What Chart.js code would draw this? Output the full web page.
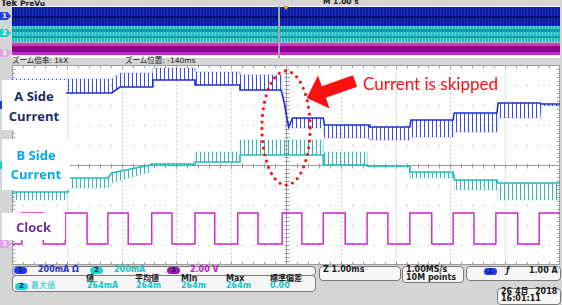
<!DOCTYPE html>
<html>
<head>
<meta charset="utf-8">
<script src="https://cdn.jsdelivr.net/npm/chart.js@4.4.1/dist/chart.umd.min.js"></script>
<style>
	body { margin: 0; }
	#scope { position: relative; width: 562px; height: 305px; background: #d5d5d5; overflow: hidden;
		font-family: "DejaVu Sans", "Noto Sans CJK JP", sans-serif; font-size: 8px; font-weight: bold; color: #1a1a1a; }
	#scope div, #scope span, #scope canvas { position: absolute; }
	.band { left: 0; width: 548px; }
	.mark { width: 11px; height: 8px; font-size: 7px; line-height: 8px; text-indent: 2px; color: #fff;
		clip-path: polygon(0 0, 65% 0, 100% 50%, 65% 100%, 0 100%); }
	.label { background: #fff; text-align: center; font-family: "Open Sans", "Noto Sans", sans-serif; font-weight: 700; font-size: 13px; z-index: 3; }
	.box { border: 1px solid #7a7a7a; border-radius: 4px; background: #f6f6f6; }
	.oval { width: 13px; height: 7px; border-radius: 4px; font-size: 7px; line-height: 7px; text-align: center; color: #102060; }
	.t { white-space: nowrap; line-height: 8px; }
</style>
</head>
<body>
<div id="scope">
	<div class="t" style="left:1px;top:-1px;font-size:8.5px;">Tek <span style="position:static;font-size:7.5px;">PreVu</span></div>
	<div class="t" style="left:323px;top:-2px;font-size:7.5px;">M 1.00 s</div>

	<div id="strip" style="left:12px;top:6px;width:548px;height:52px;background:#fff;">
		<div class="band" style="top:1px;height:19px;background:linear-gradient(to bottom, transparent 0 9px, #07106e 9px 11px, transparent 11px), repeating-linear-gradient(90deg, #0b1a9e 0 2px, #1e32ba 2px 3px);"></div>
		<div class="band" style="top:20px;height:16px;background:linear-gradient(to bottom, transparent 0 3px, #0f9ca2 3px 6px, transparent 6px 10px, #0f9ca2 10px 12px, transparent 12px), repeating-linear-gradient(90deg, #20bcc0 0 2px, #62d6d8 2px 3px);"></div>
		<div class="band" style="top:36px;height:1px;background:#b8b8b8;"></div>
		<div class="band" style="top:37px;height:12px;background:linear-gradient(to bottom, #d232d2 0 3px, #8c0090 3px 9px, #c828c8 9px 12px);"></div>
		<div style="left:266px;top:0;width:2px;height:52px;background:#a4a4a4;"></div>
		<div style="left:271px;top:0;width:0;height:0;border-left:3px solid transparent;border-right:3px solid transparent;border-top:4px solid #f0a020;"></div>
	</div>
	<div class="mark" style="left:0;top:12px;background:#2040e0;">1</div>
	<div class="mark" style="left:0;top:29px;background:#20c8d0;">2</div>
	<div class="mark" style="left:0;top:49px;background:#e0a0ee;">3</div>

	<div class="t" style="left:12px;top:57px;font-size:7.5px;font-weight:normal;">ズーム倍率: 1kX</div>
	<div class="t" style="left:125px;top:57px;font-size:7.5px;font-weight:normal;">ズーム位置: -140ms</div>

	<canvas id="zoom" width="548" height="200" style="left:12px;top:65px;background:#fff;"></canvas>

	<div class="mark" style="left:0;top:101px;background:#2040e0;">1</div>
	<div class="mark" style="left:0;top:161px;background:#20c8d0;">2</div>
	<div class="mark" style="left:0;top:240px;background:#e0a0ee;z-index:4;">3</div>

	<div class="label" style="left:2px;top:80px;width:64px;height:44px;padding-top:6px;line-height:20px;color:#1f2d62;">A Side<br>Current</div>
	<div class="label" style="left:2px;top:139px;width:68px;height:44px;padding-top:7px;line-height:19px;color:#00aaee;">B Side<br>Current</div>
	<div class="label" style="left:2px;top:213px;width:63px;height:26px;padding-top:1px;line-height:26px;color:#7030a0;">Clock</div>

	<div class="t" style="left:363px;top:75px;font-family:Lato,sans-serif;font-weight:normal;font-size:17px;line-height:17px;color:#ff1010;z-index:3;">Current is skipped</div>

	<div class="box" style="left:12px;top:266px;width:302px;height:8px;"></div>
	<div class="oval" style="left:14px;top:267px;background:#2038e8;">1</div>
	<div class="t" style="left:38px;top:266px;color:#2030d0;">200mA Ω</div>
	<div class="oval" style="left:90px;top:267px;background:#22d2d2;">2</div>
	<div class="t" style="left:114px;top:266px;color:#14c4c8;">200mA</div>
	<div class="oval" style="left:167px;top:267px;background:#9a1ca8;">3</div>
	<div class="t" style="left:190px;top:266px;color:#c020c0;">2.00 V</div>

	<div class="box" style="left:12px;top:275px;width:302px;height:15px;"></div>
	<div class="t" style="left:86px;top:275px;">値</div>
	<div class="t" style="left:135px;top:275px;">平均値</div>
	<div class="t" style="left:181px;top:275px;">Min</div>
	<div class="t" style="left:226px;top:275px;">Max</div>
	<div class="t" style="left:270px;top:275px;">標準偏差</div>
	<div class="oval" style="left:15px;top:283px;background:#22d2d2;">2</div>
	<div class="t" style="left:31px;top:282px;color:#14c4c8;font-weight:normal;">最大値</div>
	<div class="t" style="left:87px;top:282px;color:#14c4c8;">264mA</div>
	<div class="t" style="left:136px;top:282px;color:#14c4c8;">264m</div>
	<div class="t" style="left:181px;top:282px;color:#14c4c8;">264m</div>
	<div class="t" style="left:226px;top:282px;color:#14c4c8;">264m</div>
	<div class="t" style="left:270px;top:282px;color:#14c4c8;">0.00</div>

	<div class="box" style="left:319px;top:266px;width:80px;height:13px;"></div>
	<div class="t" style="left:323px;top:266px;">Z 1.00ms</div>
	<div class="box" style="left:402px;top:266px;width:60px;height:15px;"></div>
	<div class="t" style="left:406px;top:266px;">1.00MS/s</div>
	<div class="t" style="left:406px;top:274px;">10M points</div>
	<div class="box" style="left:466px;top:266px;width:93px;height:13px;"></div>
	<div class="oval" style="left:484px;top:268px;background:#2038e8;">1</div>
	<div class="t" style="left:506px;top:267px;font-style:italic;">ƒ</div>
	<div class="t" style="left:529px;top:267px;">1.00 A</div>

	<div class="box" style="left:497px;top:288px;width:62px;height:15px;"></div>
	<div class="t" style="left:501px;top:288px;">26 4月</div>
	<div class="t" style="left:535px;top:288px;">2018</div>
	<div class="t" style="left:501px;top:295px;">16:01:11</div>
</div>

<script>
// time axis in ms (1 ms/div, centre = trigger), vertical axis in divisions
const xTicks = [-5, -4, -3, -2, -1, 0, 1, 2, 3, 4, 5];
const yTicks = [-5, -4, -3, -2, -1, 0, 1, 2, 3, 4, 5];

// A side current (ch1): solid edge of the trace and the tips of its ripple
const aTime = [-5.00, -3.18, -3.03, -2.43, -2.43, -1.66, -1.66, -0.84, -0.84, -0.09, -0.03, 0.02, 0.05, 0.12, 0.68, 0.70, 1.53, 1.53, 2.26, 2.28, 3.05, 3.07, 3.85, 3.87, 4.64, 4.66, 5.00];
const aBase = [3.60, 3.60, 3.90, 3.90, 4.25, 4.25, 4.00, 4.00, 3.75, 3.75, 3.10, 2.30, 1.90, 2.35, 2.35, 2.00, 2.00, 1.90, 1.90, 2.25, 2.25, 2.60, 2.60, 3.10, 3.10, 3.05, 3.05];
const aPeak = [4.30, 4.30, 4.60, 4.60, 4.85, 4.85, 4.65, 4.65, 4.50, 4.50, 3.10, 2.30, 1.90, 1.85, 1.85, 1.35, 1.35, 1.25, 1.25, 1.40, 1.40, 1.65, 1.65, 2.35, 2.35, 2.95, 2.95];

// B side current (ch2)
const bTime = [-5.00, -3.98, -3.98, -3.25, -3.18, -2.48, -2.45, -1.66, -1.66, -0.84, -0.84, 0.68, 0.68, 1.48, 1.48, 2.26, 2.26, 3.05, 3.08, 3.85, 3.87, 5.00];
const bBase = [-1.35, -1.35, -0.65, -0.65, -0.40, 0.00, 0.05, 0.05, 0.15, 0.15, 0.50, 0.50, 0.00, 0.00, -0.05, -0.05, -0.35, -0.35, -0.75, -0.75, -0.90, -0.90];
const bPeak = [-1.75, -1.75, -1.15, -1.15, -0.90, -0.35, -0.05, -0.05, 0.65, 0.65, 1.25, 1.25, 0.65, 0.65, -0.10, -0.10, -0.65, -0.65, -1.25, -1.25, -1.75, -1.75];

// clock (ch3): edge times in ms, trace starts low
const clockEdges = [-4.82, -4.43, -4.03, -3.63, -3.25, -2.88, -2.45, -2.08, -1.66, -1.30, -0.88, -0.51, -0.07, 0.29, 0.68, 1.08, 1.48, 1.86, 2.26, 2.66, 3.05, 3.43, 3.83, 4.23, 4.62];
const clockLevels = [-3.95, -2.40];

// annotation: dotted ellipse round the skip, arrow tip and tail
const ringCentre = [0.0, 1.85];
const ringRadius = [0.44, 2.85];
const arrowTip = [0.38, 3.35];
const arrowTail = [1.26, 4.20];

function toPoints(xs, ys) {
	return xs.map((x, i) => ({x: x, y: ys[i]}));
}

function clockPoints() {
	let level = 0;
	let pts = [{x: -5, y: clockLevels[level]}];
	for (const t of clockEdges) {
		pts.push({x: t, y: clockLevels[level]});
		level = 1 - level;
		pts.push({x: t, y: clockLevels[level]});
	}
	pts.push({x: 5, y: clockLevels[level]});
	return pts;
}

function ripple(line) {
	const c = document.createElement("canvas");
	c.width = 4;
	c.height = 1;
	const g = c.getContext("2d");
	g.fillStyle = line;
	g.fillRect(0, 0, 1, 1);
	return document.getElementById("zoom").getContext("2d").createPattern(c, "repeat");
}

const graticule = {
	id: "graticule",
	beforeDatasetsDraw(chart) {
		const {ctx, chartArea: a, scales: {x, y}} = chart;
		ctx.save();
		ctx.fillStyle = "#a8a8a8";
		for (const i of xTicks) {
			if (i == 0 || i == -5 || i == 5) continue;
			const px = Math.round(x.getPixelForValue(i));
			for (let j = -25; j <= 25; j++) ctx.fillRect(px, Math.round(y.getPixelForValue(j / 5)), 1, 1);
		}
		for (const i of yTicks) {
			if (i == 0 || i == -5 || i == 5) continue;
			const py = Math.round(y.getPixelForValue(i));
			for (let j = -25; j <= 25; j++) ctx.fillRect(Math.round(x.getPixelForValue(j / 5)), py, 1, 1);
		}
		// centre cross and frame with fifth-division ticks
		const cx = Math.round(x.getPixelForValue(0)) + 0.5;
		const cy = Math.round(y.getPixelForValue(0)) + 0.5;
		ctx.strokeStyle = "#9c9c9c";
		ctx.lineWidth = 1;
		ctx.beginPath();
		ctx.moveTo(cx, a.top); ctx.lineTo(cx, a.bottom);
		ctx.moveTo(a.left, cy); ctx.lineTo(a.right, cy);
		for (let j = -25; j <= 25; j++) {
			const ty = Math.round(y.getPixelForValue(j / 5)) + 0.5;
			const tx = Math.round(x.getPixelForValue(j / 5)) + 0.5;
			ctx.moveTo(cx - 2, ty); ctx.lineTo(cx + 3, ty);
			ctx.moveTo(tx, cy - 2); ctx.lineTo(tx, cy + 3);
			ctx.moveTo(a.left, ty); ctx.lineTo(a.left + 3, ty);
			ctx.moveTo(a.right - 3, ty); ctx.lineTo(a.right, ty);
			ctx.moveTo(tx, a.top); ctx.lineTo(tx, a.top + 3);
			ctx.moveTo(tx, a.bottom - 3); ctx.lineTo(tx, a.bottom);
		}
		ctx.stroke();
		ctx.strokeRect(a.left + 0.5, a.top + 0.5, a.right - a.left - 1, a.bottom - a.top - 1);
		ctx.restore();
	}
};

const callout = {
	id: "callout",
	afterDatasetsDraw(chart) {
		const {ctx, scales: {x, y}} = chart;
		ctx.save();
		// dotted ring
		const ex = x.getPixelForValue(ringCentre[0]);
		const ey = y.getPixelForValue(ringCentre[1]);
		const rx = x.getPixelForValue(ringCentre[0] + ringRadius[0]) - ex;
		const ry = ey - y.getPixelForValue(ringCentre[1] + ringRadius[1]);
		ctx.strokeStyle = "#ff1010";
		ctx.lineWidth = 3.2;
		ctx.lineCap = "round";
		ctx.setLineDash([0, 6.6]);
		ctx.beginPath();
		ctx.ellipse(ex, ey, rx, ry, 0, 0, Math.PI * 2);
		ctx.stroke();
		// block arrow
		const tx = x.getPixelForValue(arrowTip[0]), ty = y.getPixelForValue(arrowTip[1]);
		const sx = x.getPixelForValue(arrowTail[0]), sy = y.getPixelForValue(arrowTail[1]);
		const len = Math.hypot(sx - tx, sy - ty);
		ctx.translate(tx, ty);
		ctx.rotate(Math.atan2(sy - ty, sx - tx));
		ctx.fillStyle = "#ff1010";
		ctx.beginPath();
		ctx.moveTo(0, 0);
		ctx.lineTo(18, -17.5);
		ctx.lineTo(18, -6);
		ctx.lineTo(len, -6);
		ctx.lineTo(len, 6);
		ctx.lineTo(18, 6);
		ctx.lineTo(18, 17.5);
		ctx.closePath();
		ctx.fill();
		ctx.restore();
	}
};

function createScope() {
	const canvas = document.querySelector("#zoom");
	const options = {
		type: "line",
		data: {
			datasets: [
				{
					data: toPoints(aTime, aBase),
					borderColor: "#1c2cd2",
					borderWidth: 1.6,
					pointRadius: 0,
					fill: false,
				},
				{
					data: toPoints(aTime, aPeak),
					borderColor: "rgba(40, 56, 214, 0.35)",
					borderWidth: 0.6,
					pointRadius: 0,
					backgroundColor: ripple("rgba(30, 46, 210, 0.85)"),
					fill: 0,
				},
				{
					data: toPoints(bTime, bBase),
					borderColor: "#18c0c4",
					borderWidth: 1.6,
					pointRadius: 0,
					fill: false,
				},
				{
					data: toPoints(bTime, bPeak),
					borderColor: "rgba(24, 176, 180, 0.35)",
					borderWidth: 0.6,
					pointRadius: 0,
					backgroundColor: ripple("rgba(20, 170, 174, 0.85)"),
					fill: 2,
				},
				{
					data: clockPoints(),
					borderColor: "#cc20cc",
					borderWidth: 1.4,
					pointRadius: 0,
					fill: false,
				},
			]
		},
		options: {
			responsive: false,
			animation: false,
			events: [],
			layout: {
				padding: 0
			},
			scales: {
				x: {
					type: "linear",
					min: xTicks[0],
					max: xTicks[xTicks.length - 1],
					display: false,
				},
				y: {
					min: yTicks[0],
					max: yTicks[yTicks.length - 1],
					display: false,
				},
			},
			plugins: {
				legend: {
					display: false,
				},
				tooltip: {
					enabled: false,
				},
			},
		},
		plugins: [graticule, callout],
	};
	const chart = new Chart(canvas.getContext("2d"), options);
}

createScope();
</script>
</body>
</html>
